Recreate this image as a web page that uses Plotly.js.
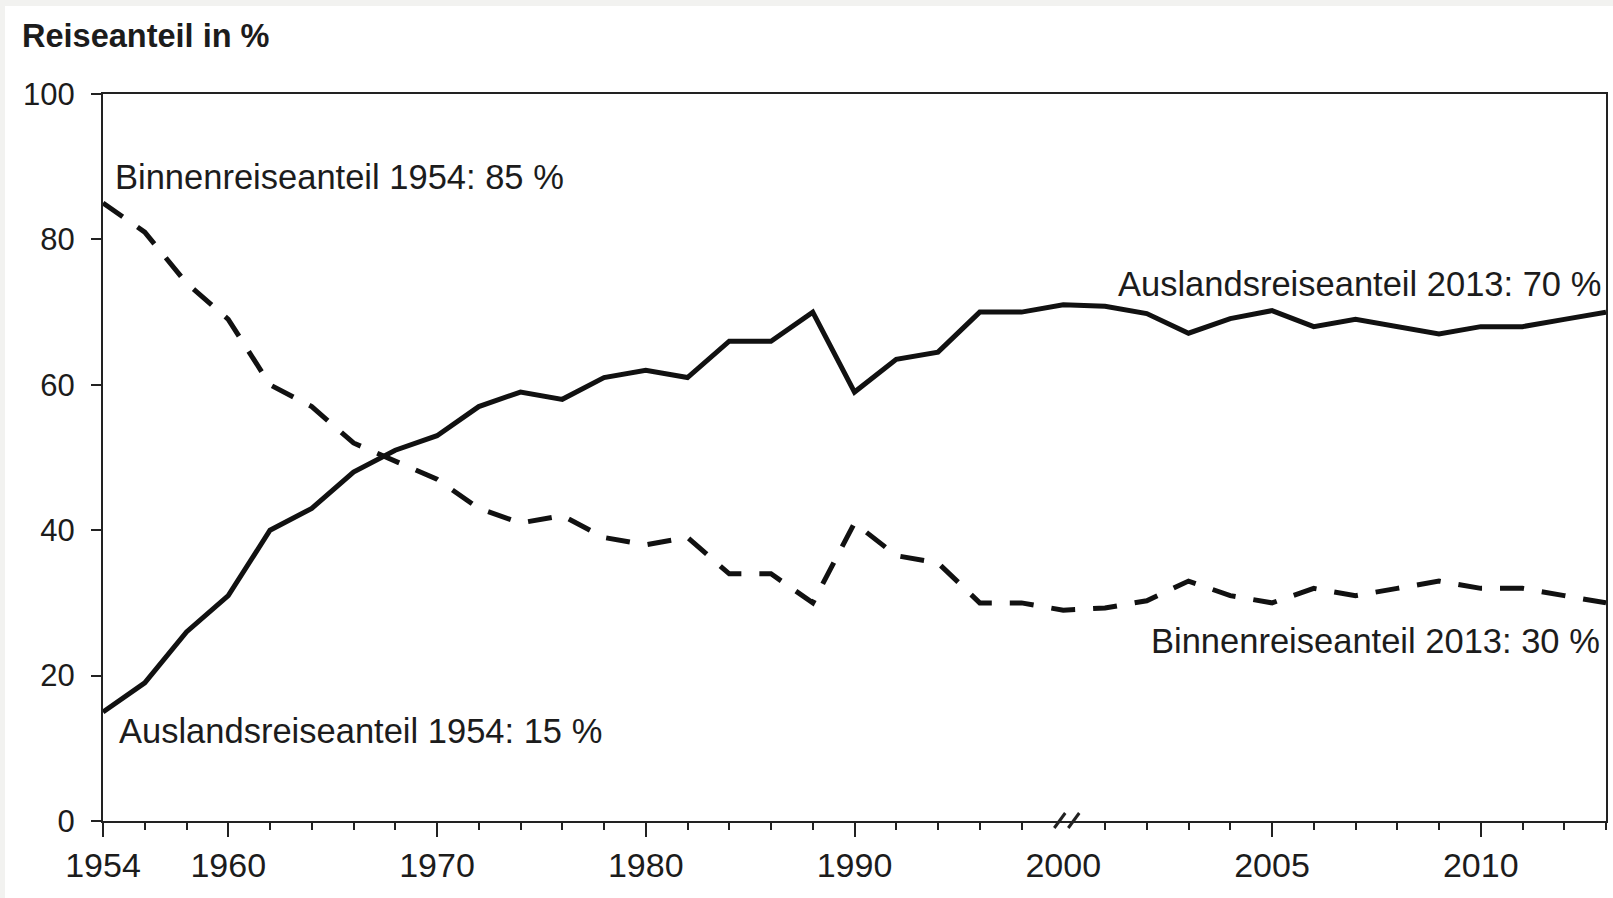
<!DOCTYPE html>
<html>
<head>
<meta charset="utf-8">
<script src="https://cdn.plot.ly/plotly-3.0.1.min.js"></script>
<style>
  html, body { margin: 0; padding: 0; background: #f2f2f0; width: 1613px; height: 898px; overflow: hidden; }
  #chart { position: absolute; left: 5px; top: 6px; width: 1608px; height: 892px; background: #ffffff; }
</style>
</head>
<body>
<div id="chart"></div>
<script>
// ---- data ----
const years = [1954, 1956, 1958, 1960, 1962, 1964, 1966, 1968, 1970, 1972, 1974, 1976, 1978, 1980,
               1982, 1984, 1986, 1988, 1990, 1992, 1994, 1996, 1998, 2000,
               2001, 2002, 2003, 2004, 2005, 2006, 2007, 2008, 2009, 2010, 2011, 2012, 2013];
const auslandsreiseanteil = [15, 19, 26, 31, 40, 43, 48, 51, 53, 57, 59, 58, 61, 62,
                             61, 66, 66, 70, 59, 63.5, 64.5, 70, 70, 71,
                             70.8, 69.8, 67.1, 69.1, 70.2, 68, 69, 68, 67, 68, 68, 69, 70];
const binnenreiseanteil = [85, 81, 74, 69, 60, 57, 52, 49.5, 47, 43, 41, 42, 39, 38,
                           39, 34, 34, 30, 41, 36.5, 35.5, 30, 30, 29,
                           29.3, 30.3, 33, 31, 30, 32, 31, 32, 33, 32, 32, 31, 30];
const tickYears = [1954, 1960, 1970, 1980, 1990, 2000, 2005, 2010];
const tickLabels = ["1954", "1960", "1970", "1980", "1990", "2000", "2005", "2010"];
const breakYear = 2000;
const yTicks = [0, 20, 40, 60, 80, 100];
const yAxisTitle = "Reiseanteil in %";
const notes = {
  binnenStart: "Binnenreiseanteil 1954: 85 %",
  auslandStart: "Auslandsreiseanteil 1954: 15 %",
  auslandEnd: "Auslandsreiseanteil 2013: 70 %",
  binnenEnd: "Binnenreiseanteil 2013: 30 %"
};

// ---- build ----
const idx = years.map((_, i) => i);
const lastIdx = years.length - 1;
const breakIdx = years.indexOf(breakYear);
const labelIdx = tickYears.map(y => years.indexOf(y));
const longTickIdx = labelIdx.filter(i => i !== breakIdx);
const minorIdx = idx.filter(i => !labelIdx.includes(i));

const FONT = "Liberation Sans, Arial, Helvetica, sans-serif";
const INK = "#1c1c1c";
const NOTE_SIZE = 34.5;

const traces = [
  { x: idx, y: binnenreiseanteil, type: "scatter", mode: "lines", name: "Binnenreiseanteil",
    line: { color: "#111111", width: 5, dash: "24px,18px" }, hoverinfo: "skip" },
  { x: idx, y: auslandsreiseanteil, type: "scatter", mode: "lines", name: "Auslandsreiseanteil",
    line: { color: "#111111", width: 5 }, hoverinfo: "skip" },
  { x: [0], y: [0], xaxis: "x2", yaxis: "y", mode: "markers", marker: { opacity: 0 },
    showlegend: false, hoverinfo: "skip" }
];

const axisLine = { showline: true, linecolor: "#222222", linewidth: 2 };

const layout = {
  width: 1608, height: 892,
  paper_bgcolor: "#ffffff", plot_bgcolor: "#ffffff",
  margin: { l: 98, r: 7, t: 88, b: 77 },
  showlegend: false,
  font: { family: FONT, color: INK, size: 31 },
  title: { text: "<b>" + yAxisTitle + "</b>", xref: "container", yref: "container",
           x: 17 / 1608, xanchor: "left", y: 1 - 30 / 892, yanchor: "middle",
           font: { family: FONT, size: 32.5, color: INK } },
  xaxis: Object.assign({}, axisLine, {
    range: [0, lastIdx], mirror: true, showgrid: false, zeroline: false,
    tickmode: "array", tickvals: longTickIdx, showticklabels: false,
    ticks: "outside", ticklen: 14, tickwidth: 2, tickcolor: "#222222",
    minor: { tickmode: "array", tickvals: minorIdx, ticks: "outside", ticklen: 7, tickwidth: 2, tickcolor: "#222222" },
    fixedrange: true
  }),
  xaxis2: {
    overlaying: "x", anchor: "y", side: "bottom", range: [0, lastIdx],
    showline: false, showgrid: false, zeroline: false,
    tickmode: "array", tickvals: labelIdx, ticktext: tickLabels, ticks: "",
    ticklabelstandoff: 21, tickfont: { family: FONT, size: 34, color: INK }, fixedrange: true
  },
  yaxis: Object.assign({}, axisLine, {
    range: [0, 100], mirror: true, showgrid: false, zeroline: false,
    tickmode: "array", tickvals: yTicks,
    ticks: "outside", ticklen: 10, tickwidth: 2, tickcolor: "#222222",
    ticklabelstandoff: 10, tickfont: { family: FONT, size: 31, color: INK }, fixedrange: true
  }),
  annotations: [
    { text: notes.binnenStart, x: 0, y: 88.6, xref: "x", yref: "y", xanchor: "left", yanchor: "middle", xshift: 10, showarrow: false, font: { size: NOTE_SIZE } },
    { text: notes.auslandStart, x: 0, y: 12.4, xref: "x", yref: "y", xanchor: "left", yanchor: "middle", xshift: 14, showarrow: false, font: { size: NOTE_SIZE } },
    { text: notes.auslandEnd, x: lastIdx, y: 73.9, xref: "x", yref: "y", xanchor: "right", yanchor: "middle", xshift: -3, showarrow: false, font: { size: NOTE_SIZE } },
    { text: notes.binnenEnd, x: lastIdx, y: 24.8, xref: "x", yref: "y", xanchor: "right", yanchor: "middle", xshift: -4, showarrow: false, font: { size: NOTE_SIZE } }
  ],
  shapes: [
    { type: "line", xref: "x", xsizemode: "pixel", xanchor: breakIdx, x0: -9, x1: 2,
      yref: "paper", ysizemode: "pixel", yanchor: 0, y0: -7, y1: 8, line: { color: "#222222", width: 3 } },
    { type: "line", xref: "x", xsizemode: "pixel", xanchor: breakIdx, x0: 5, x1: 16,
      yref: "paper", ysizemode: "pixel", yanchor: 0, y0: -7, y1: 8, line: { color: "#222222", width: 3 } }
  ]
};

Plotly.newPlot("chart", traces, layout, { staticPlot: true, displayModeBar: false });
</script>
</body>
</html>
